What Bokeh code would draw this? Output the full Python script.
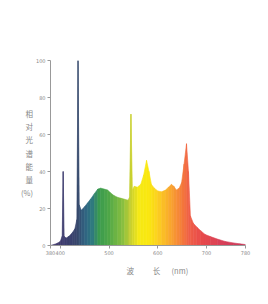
from bokeh.plotting import figure
from bokeh.embed import file_html
from bokeh.resources import INLINE
from bokeh.models import FixedTicker, ColumnDataSource

# wavelength (nm) and relative spectral power (%)
wavelength = [380, 390, 396, 400, 404, 406, 408, 412, 418, 425, 430, 434, 436.5, 439, 443,
              450, 456, 462, 470, 477, 483, 490, 497, 503, 510, 518, 525, 532, 539, 542,
              545, 548, 552, 558, 565, 571, 577, 582, 587, 593, 600, 608, 616, 622, 628,
              633, 638, 644, 649, 654, 659, 663, 667, 673, 680, 688, 697, 708, 722, 738,
              755, 768, 780]
power = [0, 0.8, 1.5, 2.2, 5, 40, 5, 4, 5, 7, 9, 14, 100, 22, 19,
         21, 23, 25, 28, 30.5, 31, 30.5, 30, 28.5, 27, 26, 25.5, 25, 24.5, 26,
         71, 30, 32, 31.5, 33, 38, 46, 40, 33, 31, 29.5, 29, 30, 31.5, 33,
         32, 30, 31, 34, 44, 55, 40, 16, 12, 10, 8, 6, 4.8, 3.5, 2.2,
         1.4, 0.9, 0.5]
x_ticks = [380, 400, 500, 600, 700, 780]
y_ticks = [0, 20, 40, 60, 80, 100]

# colour stops (style)
stops = [(380, (70, 60, 110)), (410, (62, 62, 112)), (436, (56, 72, 108)),
         (450, (48, 98, 130)), (465, (46, 120, 130)), (480, (58, 154, 80)),
         (500, (80, 168, 72)), (530, (140, 192, 64)), (545, (200, 208, 48)),
         (562, (246, 234, 20)), (582, (250, 232, 16)), (600, (252, 208, 32)),
         (630, (248, 160, 48)), (650, (244, 122, 58)), (665, (240, 96, 72)),
         (690, (232, 74, 74)), (730, (216, 64, 88)), (780, (200, 58, 90))]


def colour(w):
    for (w0, c0), (w1, c1) in zip(stops[:-1], stops[1:]):
        if w0 <= w <= w1:
            t = (w - w0) / (w1 - w0)
            r, g, b = (int(round(a + (bb - a) * t)) for a, bb in zip(c0, c1))
            return "#%02x%02x%02x" % (r, g, b)
    return "#%02x%02x%02x" % stops[-1][1]


xs, ys, cols = [], [], []
for i in range(len(wavelength) - 1):
    x0, x1 = wavelength[i], wavelength[i + 1]
    y0, y1 = power[i], power[i + 1]
    xs.append([x0, x0, x1, x1])
    ys.append([0, y0, y1, 0])
    cols.append(colour((x0 + x1) / 2))

src = ColumnDataSource(dict(xs=xs, ys=ys, c=cols))

p = figure(width=260, height=296, x_range=(380, 780), y_range=(0, 100),
           output_backend="svg", toolbar_location=None,
           min_border_left=50, min_border_right=15, min_border_top=60, min_border_bottom=51)
p.patches("xs", "ys", source=src, fill_color="c", line_color="c", line_width=0.6)

p.grid.visible = False
p.outline_line_color = None
p.background_fill_color = "white"
p.border_fill_color = "white"

for ax in (p.xaxis[0], p.yaxis[0]):
    ax.axis_line_color = "#999999"
    ax.major_tick_line_color = "#999999"
    ax.minor_tick_line_color = None
    ax.major_tick_out = 3
    ax.major_tick_in = 0
    ax.major_label_text_font_size = "5px"
    ax.major_label_text_color = "#888888"
    ax.major_label_text_font = "DejaVu Sans"
    ax.axis_label_text_font = "Noto Sans CJK SC"
    ax.axis_label_text_font_style = "normal"
    ax.axis_label_text_color = "#888888"
    ax.axis_label_text_font_size = "7.5px"

p.xaxis.ticker = FixedTicker(ticks=x_ticks)
p.yaxis.ticker = FixedTicker(ticks=y_ticks)
p.xaxis.major_label_standoff = 2
p.yaxis.major_label_standoff = 2
p.xaxis.axis_label = "\u3000\u3000\u2002波\u3000\u3000\u2002长\u3000\u2002(nm)"
p.xaxis.axis_label_standoff = 7
p.yaxis.axis_label = "相\n对\n光\n谱\n能\n量\n(%)"
p.yaxis.axis_label_orientation = "horizontal"
p.yaxis.axis_label_standoff = 0

open("out.html", "w").write(file_html(p, INLINE))
